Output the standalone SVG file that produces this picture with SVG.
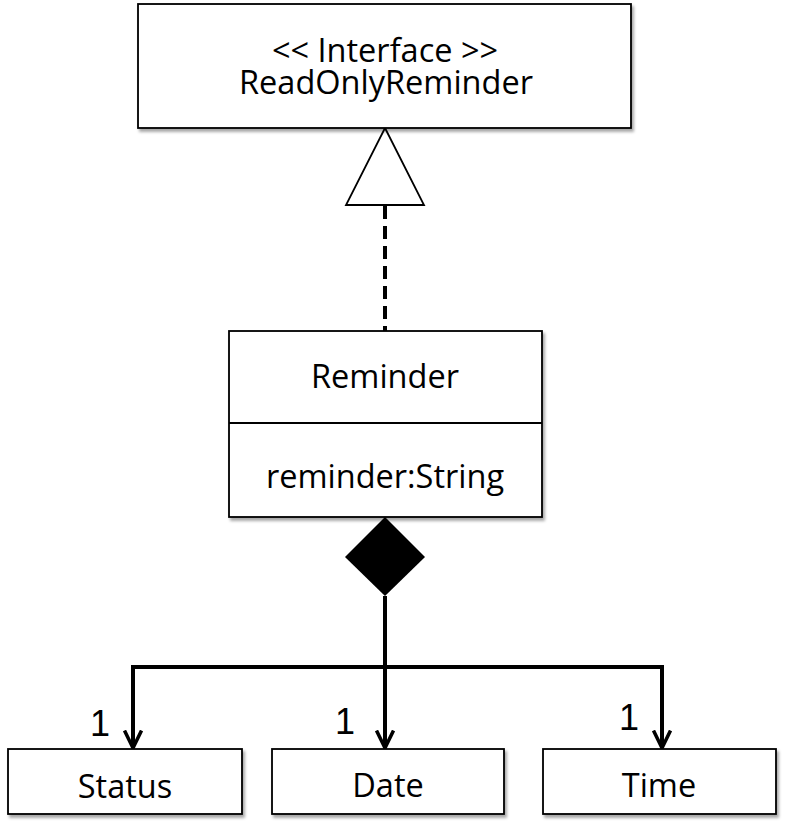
<svg xmlns="http://www.w3.org/2000/svg" width="788" height="826" viewBox="0 0 788 826">
<style>
.box{fill:#fff;stroke:#000;stroke-width:1.8;filter:url(#sh)}
.t{font-family:"Open Sans","Noto Sans","Liberation Sans",sans-serif;font-size:32.5px;fill:#000;text-anchor:middle}
.m{font-family:"Liberation Sans",Arial,sans-serif;font-size:36px;fill:#000;text-anchor:middle}
.ln{fill:none;stroke:#000;stroke-width:4}
</style>
<defs>
<filter id="sh" x="-10%" y="-10%" width="125%" height="130%">
<feDropShadow dx="2" dy="3" stdDeviation="1.8" flood-color="#000" flood-opacity="0.35"/>
</filter>
<marker id="arr" viewBox="0 0 20 20" refX="18.5" refY="10" markerWidth="20" markerHeight="20" markerUnits="userSpaceOnUse" orient="auto-start-reverse">
<path d="M1,1.5 L18.5,10 L1,18.5" fill="none" stroke="#000" stroke-width="3.5"/>
</marker>
</defs>
<rect width="788" height="826" fill="#fff"/>
<g id="connectors">
<line class="ln" x1="385" y1="206" x2="385" y2="331" stroke-dasharray="13,7"/>
<polygon points="385,128 424,205 346,205" fill="#fff" stroke="#000" stroke-width="1.8"/>
<polygon points="385,517 425,557 385,596 345,557" fill="#000"/>
<line class="ln" x1="385" y1="596" x2="385" y2="748" stroke-width="3.5" marker-end="url(#arr)"/>
<polyline class="ln" points="133,748 133,667 662,667 662,748" marker-start="url(#arr)" marker-end="url(#arr)"/>
<text class="m" x="100" y="736">1</text>
<text class="m" x="345" y="734">1</text>
<text class="m" x="629" y="730">1</text>
</g>
<g id="readonlyreminder">
<rect class="box" x="138" y="4" width="493" height="124"/>
<text class="t" x="385" y="62">&lt;&lt; Interface &gt;&gt;</text>
<text class="t" x="386" y="94">ReadOnlyReminder</text>
</g>
<g id="reminder">
<rect class="box" x="229" y="331" width="313" height="186"/>
<line x1="229" y1="423" x2="542" y2="423" stroke="#000" stroke-width="1.8"/>
<text class="t" x="385" y="388">Reminder</text>
<text class="t" x="385" y="488">reminder:String</text>
</g>
<g id="status">
<rect class="box" x="8" y="749" width="234" height="65"/>
<text class="t" x="125" y="798">Status</text>
</g>
<g id="date">
<rect class="box" x="272" y="749" width="232" height="65"/>
<text class="t" x="388" y="797">Date</text>
</g>
<g id="time">
<rect class="box" x="543" y="749" width="233" height="65"/>
<text class="t" x="659" y="797">Time</text>
</g>
</svg>
